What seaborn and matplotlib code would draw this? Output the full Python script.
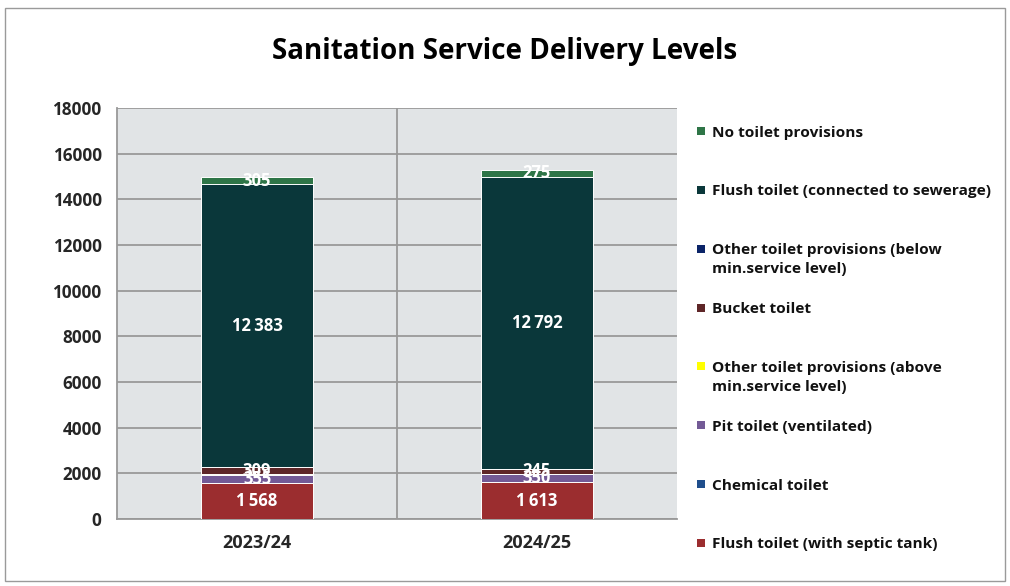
import matplotlib
matplotlib.use("Agg")
import matplotlib.pyplot as plt
from matplotlib.patches import Rectangle
import seaborn as sns
import numpy as np
import pandas as pd

# ---- data ----
years = ["2023/24", "2024/25"]
series = [  # bottom -> top
    "Flush toilet (with septic tank)",
    "Chemical toilet",
    "Pit toilet (ventilated)",
    "Other toilet provisions (above\nmin.service level)",
    "Bucket toilet",
    "Other toilet provisions (below\nmin.service level)",
    "Flush toilet (connected to sewerage)",
    "No toilet provisions",
]
flush_septic = [1568, 1613]
chemical = [0, 0]
pit_vent = [355, 350]
other_above = [40, 0]
bucket = [309, 245]
other_below = [0, 0]
flush_sewer = [12383, 12792]
no_toilet = [305, 275]
values = [flush_septic, chemical, pit_vent, other_above, bucket, other_below, flush_sewer, no_toilet]
colors = ["#9B2D2F", "#1F4E8C", "#735A96", "#FFFF00", "#5E2628", "#0B2468", "#0A373A", "#2E7547"]
yticks = list(range(0, 18001, 2000))

sns.set_theme(style="white")
FONT = ["Open Sans", "DejaVu Sans"]
plt.rcParams["font.family"] = FONT

W, H = 1010, 586
fig = plt.figure(figsize=(W / 100, H / 100), dpi=100)
ax = fig.add_axes([117 / W, 1 - 519 / H, (677 - 117) / W, (519 - 108) / H])
ax.set_facecolor("#E1E4E6")

vals = np.array(values, dtype=float)
cum = np.cumsum(vals, axis=0)
bottoms = cum - vals

# draw cumulative totals from top layer down (seaborn stacked bar technique)
for i in range(len(series) - 1, -1, -1):
    df = pd.DataFrame({"year": years, "total": cum[i]})
    sns.barplot(data=df, x="year", y="total", color=colors[i], saturation=1,
                width=0.4, edgecolor="white", linewidth=0.7, ax=ax, zorder=3)

# labels
for i in range(len(series)):
    for j in range(len(years)):
        v = vals[i, j]
        if v >= 100:
            txt = f"{int(v):,}".replace(",", "\u2009")
            ax.text(j, bottoms[i, j] + v / 2, txt, ha="center", va="center",
                    color="white", fontsize=12, fontweight="bold", zorder=5,
                    family=FONT)

ax.set_ylim(0, 18000)
ax.set_xlim(-0.5, 1.5)
ax.set_yticks(yticks)
ax.set_yticklabels([str(t) for t in yticks], fontsize=12.3, fontweight="bold")
ax.set_xticks(range(len(years)))
ax.set_xticklabels(years, fontsize=13, fontweight="bold")
ax.tick_params(axis="both", length=0)
ax.tick_params(axis="y", pad=11)
ax.tick_params(axis="x", pad=11)
ax.set_xlabel("")
ax.set_ylabel("")
for t in yticks:
    ax.axhline(t, color="#999999", lw=1.3, zorder=1)
ax.axvline(0.5, color="#999999", lw=1.3, zorder=1)
for s in ["left", "bottom"]:
    ax.spines[s].set_color("#999999")
    ax.spines[s].set_linewidth(1.3)
for s in ["top", "right"]:
    ax.spines[s].set_visible(False)

fig.text(0.5, 1 - 52 / H, "Sanitation Service Delivery Levels", ha="center", va="center",
         fontsize=20, fontweight="bold", color="black")

# legend (top entry = top layer)
leg_items = list(zip(series, colors))[::-1]
for k, (lab, col) in enumerate(leg_items):
    yc = 131 + k * 58.85
    fig.patches.append(Rectangle((697 / W, 1 - (yc + 4) / H), 8 / W, 8 / H,
                                 transform=fig.transFigure, facecolor=col,
                                 edgecolor="none", figure=fig))
    for li, line in enumerate(lab.split("\n")):
        fig.text(712 / W, 1 - (yc + li * 19) / H, line, ha="left", va="center_baseline",
                 fontsize=11.1, fontweight="bold", color="#111111")

fig.patches.append(Rectangle((5 / W, 1 - 581 / H), 1000 / W, 573 / H,
                             transform=fig.transFigure, facecolor="none",
                             edgecolor="#9A9A9A", lw=1, figure=fig))

fig.savefig("out.png", dpi=100)
